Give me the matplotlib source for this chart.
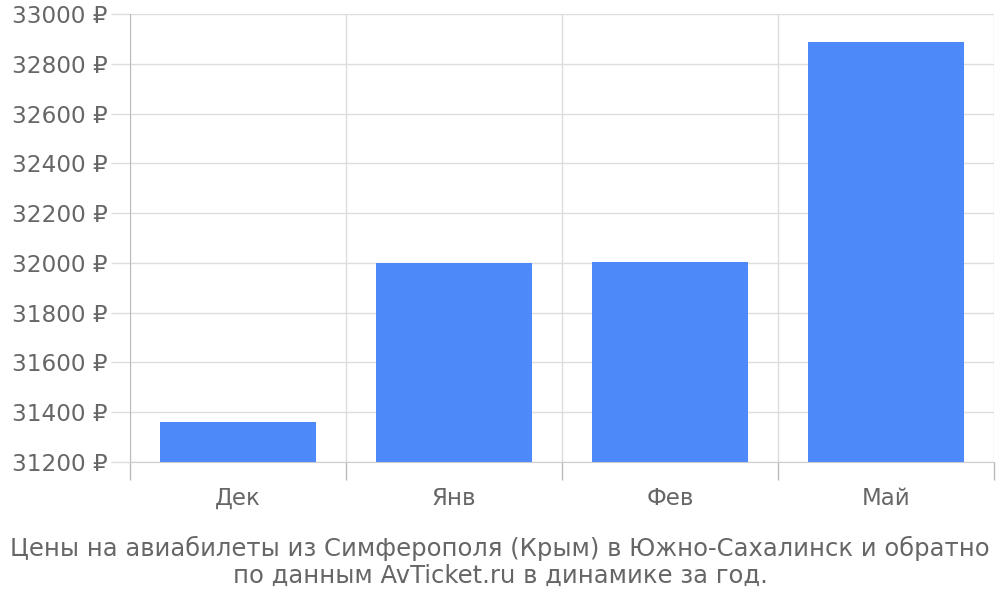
import matplotlib
matplotlib.use("Agg")
import matplotlib.pyplot as plt

months = ["Дек", "Янв", "Фев", "Май"]
prices = [31361, 31998, 32003, 32887]
yticks = list(range(31200, 33001, 200))
caption = ("Цены на авиабилеты из Симферополя (Крым) в Южно-Сахалинск и обратно\n"
           "по данным AvTicket.ru в динамике за год.")

text_col = "#666666"
grid_col = "#dddddd"

fig = plt.figure(figsize=(10, 6), dpi=100)
ax = fig.add_axes([0.13, 1 - 462 / 600, 0.864, 448 / 600])

pos = [i + 0.5 for i in range(len(months))]
ax.bar(pos, prices, width=0.72, color="#4d89f9", zorder=3)

ax.set_xlim(0, len(months))
ax.set_ylim(31200, 33000)

ax.set_yticks(yticks)
ax.set_yticklabels([f"{v} ₽" for v in yticks])
ax.set_xticks(range(len(months) + 1))
ax.set_xticklabels([])
ax.set_xticks(pos, minor=True)
ax.set_xticklabels(months, minor=True)

ax.tick_params(axis="x", which="major", length=13, width=1, color="#bbbbbb")
ax.tick_params(axis="x", which="minor", length=0, pad=18, labelsize=16.5, labelcolor=text_col)
ax.tick_params(axis="y", length=14, width=1, color=grid_col, pad=2, labelsize=16.7, labelcolor=text_col)

ax.grid(True, which="major", color=grid_col, linewidth=1, zorder=0)

for s in ["top", "right"]:
    ax.spines[s].set_visible(False)
ax.spines["left"].set_color("#bbbbbb")
ax.spines["bottom"].set_color("#cccccc")

fig.text(0.5, 1 - 562 / 600, caption, ha="center", va="center", fontsize=17.5,
         color=text_col, linespacing=1.15)

fig.savefig("out.png", dpi=100)
